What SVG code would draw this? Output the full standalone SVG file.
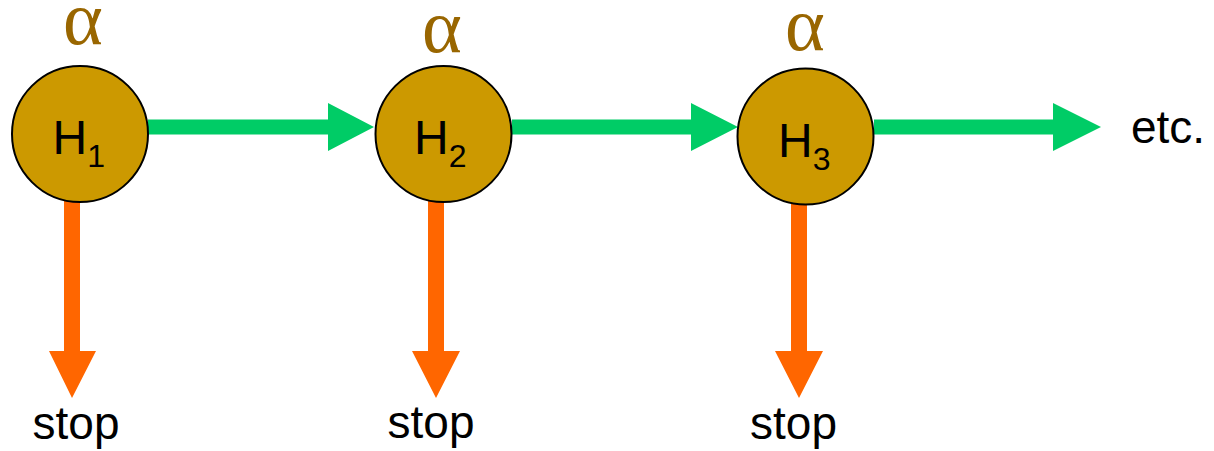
<svg xmlns="http://www.w3.org/2000/svg" width="1214" height="451" viewBox="0 0 1214 451">
<style>
.node{fill:#CC9900;stroke:#000;stroke-width:2}
.go{fill:#00CC66}
.stop{fill:#FF6600}
.lbl{font-family:"Liberation Sans",Arial,sans-serif;fill:#000}
.alpha{font-family:"Liberation Serif","Times New Roman",serif;fill:#996600;font-size:76px;text-anchor:middle}
</style>
<rect width="1214" height="451" fill="#fff"/>
<g id="connectors">
<path class="go" d="M148,119.5 H328 V103 L374,127 L328,151 V134.5 H148 Z"/>
<path class="go" d="M512,119.5 H691 V103 L738,127 L691,151 V134.5 H512 Z"/>
<path class="go" d="M874,119.5 H1053 V103 L1101,127 L1053,151 V134.5 H874 Z"/>
<path class="stop" d="M64,200 V351 H49 L72,398 L96,351 H80 V200 Z"/>
<path class="stop" d="M428,200 V351 H412 L436,398 L460,351 H444 V200 Z"/>
<path class="stop" d="M791,202 V351 H775 L799,398 L823,351 H807 V202 Z"/>
</g>
<g id="H1">
<circle class="node" cx="80" cy="134" r="68"/>
<text class="lbl" x="52.5" y="154" font-size="48">H<tspan font-size="32" dy="13">1</tspan></text>
<text class="alpha" x="83" y="44">α</text>
</g>
<g id="H2">
<circle class="node" cx="443.5" cy="134" r="68"/>
<text class="lbl" x="414" y="154" font-size="48">H<tspan font-size="32" dy="13">2</tspan></text>
<text class="alpha" x="442" y="52">α</text>
</g>
<g id="H3">
<circle class="node" cx="805.5" cy="136.5" r="68"/>
<text class="lbl" x="778" y="157" font-size="48">H<tspan font-size="32" dy="13">3</tspan></text>
<text class="alpha" x="805" y="50">α</text>
</g>
<g id="etc">
<text class="lbl" x="1131" y="143" font-size="46">etc.</text>
</g>
<g id="stop1"><text class="lbl" x="76" y="439" font-size="46" text-anchor="middle">stop</text></g>
<g id="stop2"><text class="lbl" x="431" y="438" font-size="46" text-anchor="middle">stop</text></g>
<g id="stop3"><text class="lbl" x="793.5" y="439" font-size="46" text-anchor="middle">stop</text></g>
</svg>
